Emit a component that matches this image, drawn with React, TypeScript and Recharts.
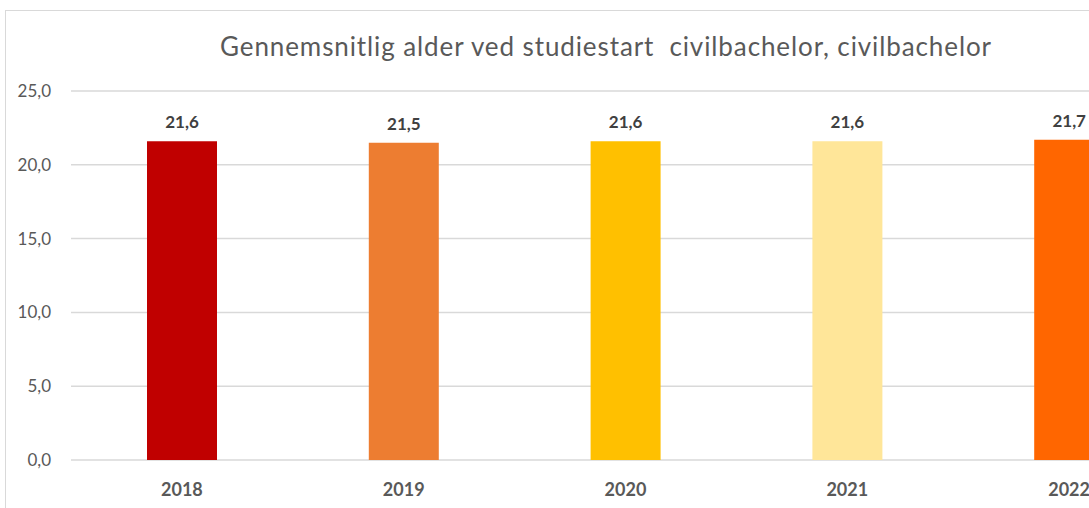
import { BarChart, Bar, XAxis, YAxis, CartesianGrid, LabelList, Cell } from "recharts";

const years = ["2018", "2019", "2020", "2021", "2022"];
const averageAge = [21.6, 21.5, 21.6, 21.6, 21.7];
const barColors = ["#C00000", "#ED7D31", "#FFC000", "#FFE699", "#FF6600"];
const yTicks = [0, 5, 10, 15, 20, 25];

const data = years.map((year, i) => ({ year, age: averageAge[i] }));

const comma = (v: number) => Number(v).toFixed(1).replace(".", ",");
const font = "Lato, 'Liberation Sans', sans-serif";

export default function App() {
  return (
    <div style={{ position: "fixed", left: 0, top: 0, width: 1089, height: 508, overflow: "hidden", background: "#fff" }}>
      <div
        style={{
          position: "absolute",
          left: 5,
          top: 10,
          width: 1200,
          height: 520,
          border: "1px solid #d9d9d9",
          fontFamily: font,
        }}
      >
        <div
          style={{
            position: "absolute",
            left: 0,
            top: 19,
            width: 1200,
            textAlign: "center",
            fontSize: 26,
            letterSpacing: 0.9,
            color: "#595959",
            whiteSpace: "pre",
          }}
        >
          {"Gennemsnitlig alder ved studiestart  civilbachelor, civilbachelor"}
        </div>
        <BarChart
          width={1200}
          height={500}
          data={data}
          margin={{ top: 80, right: 26, bottom: 0, left: 0 }}
        >
          <CartesianGrid vertical={false} stroke="#d9d9d9" strokeWidth={1.5} />
          <YAxis
            width={65}
            domain={[0, 25]}
            ticks={yTicks}
            tickFormatter={comma}
            axisLine={false}
            tickLine={false}
            tickMargin={14}
            tick={{ fill: "#595959", fontSize: 17, fontFamily: font }}
          />
          <XAxis
            dataKey="year"
            height={51}
            axisLine={false}
            tickLine={false}
            tickMargin={17}
            tick={{ fill: "#595959", fontSize: 18, fontWeight: "bold", fontFamily: font }}
          />
          <Bar dataKey="age" barSize={70} isAnimationActive={false}>
            {data.map((d, i) => (
              <Cell key={d.year} fill={barColors[i]} />
            ))}
            <LabelList
              dataKey="age"
              position="top"
              offset={13}
              formatter={(v: any) => comma(v)}
              style={{ fill: "#404040", fontSize: 17, fontWeight: "bold", fontFamily: font }}
            />
          </Bar>
        </BarChart>
      </div>
    </div>
  );
}
